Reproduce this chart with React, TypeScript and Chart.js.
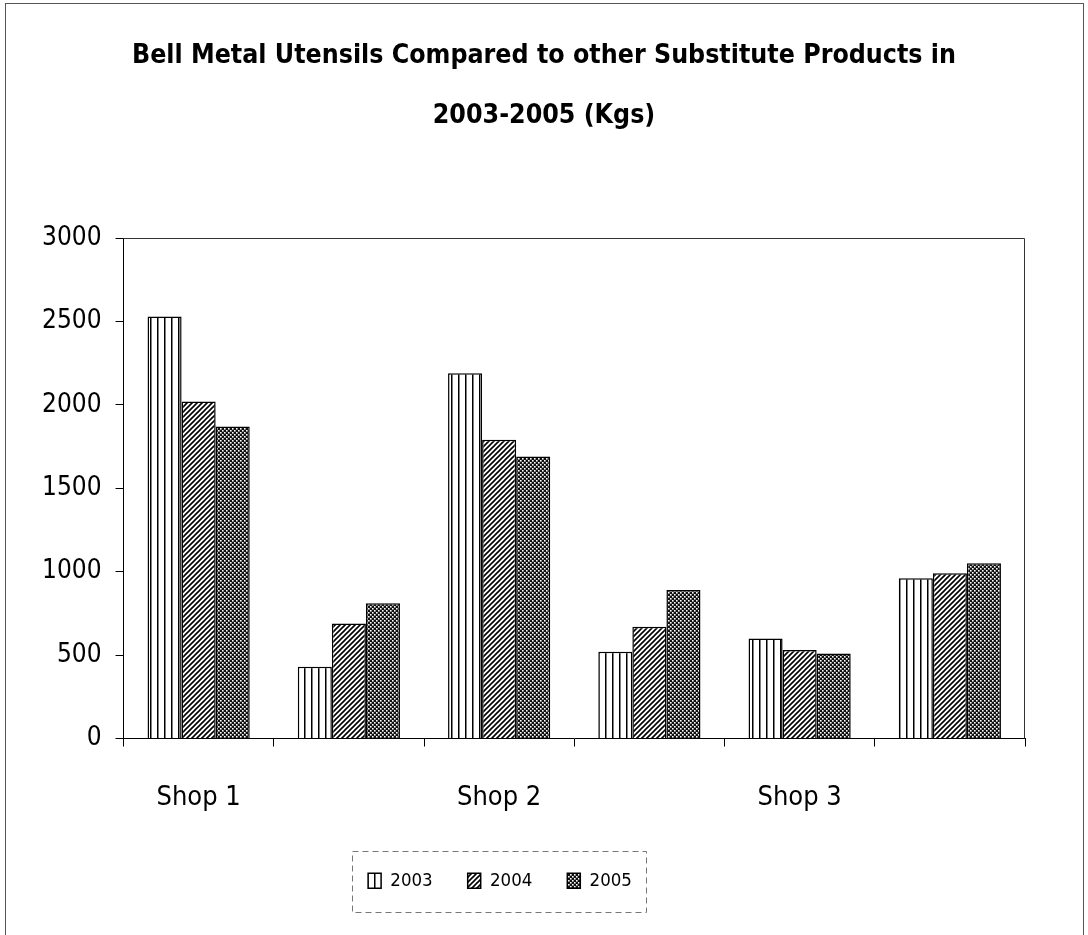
import React, { useEffect, useRef } from 'react';
import { Chart, registerables } from 'chart.js';
Chart.register(...registerables);

const categories = ['Shop 1', '', 'Shop 2', '', 'Shop 3', ''];
const seriesNames = ['2003', '2004', '2005'];
const values2003 = [2530, 430, 2190, 520, 600, 960];
const values2004 = [2020, 690, 1790, 670, 530, 990];
const values2005 = [1870, 810, 1690, 890, 510, 1050];
const yTicks = [0, 500, 1000, 1500, 2000, 2500, 3000];
const titleLines = ['Bell Metal Utensils Compared to other Substitute Products in', '2003-2005 (Kgs)'];

const FONT = "'Liberation Sans Narrow', 'DejaVu Sans Condensed', 'Arial Narrow', sans-serif";

function makePattern(kind: string): CanvasPattern | string {
  const c = document.createElement('canvas');
  const ctx = c.getContext('2d');
  if (!ctx) return '#888';
  if (kind === 'vertical') {
    c.width = 7; c.height = 4;
    ctx.fillStyle = '#fff'; ctx.fillRect(0, 0, 7, 4);
    ctx.fillStyle = '#000'; ctx.fillRect(3, 0, 1.5, 4);
  } else if (kind === 'diagonal') {
    c.width = 5; c.height = 5;
    ctx.fillStyle = '#fff'; ctx.fillRect(0, 0, 5, 5);
    ctx.strokeStyle = '#000'; ctx.lineWidth = 1.6;
    ctx.beginPath();
    ctx.moveTo(-1, 6); ctx.lineTo(6, -1);
    ctx.moveTo(-1, 1); ctx.lineTo(1, -1);
    ctx.moveTo(4, 6); ctx.lineTo(6, 4);
    ctx.stroke();
  } else {
    c.width = 4; c.height = 4;
    ctx.fillStyle = '#111'; ctx.fillRect(0, 0, 4, 4);
    ctx.fillStyle = '#fff';
    ctx.fillRect(0, 0, 1.6, 1.6);
    ctx.fillRect(2, 2, 1.6, 1.6);
  }
  const p = ctx.createPattern(c, 'repeat');
  return p || '#888';
}

const framePlugin = {
  id: 'frame',
  afterLayout(chart: any) {
    const t = chart.titleBlock;
    if (t) { t.left = 0; t.right = 1088; }
    const lg = chart.legend;
    if (lg) {
      const dx = (1000 - (lg.left + lg.right)) / 2;
      lg.left = 0; lg.right = 1000;
      if (lg.legendHitBoxes) {
        for (const hb of lg.legendHitBoxes) hb.left += dx;
      }
    }
  },
  beforeDraw(chart: any) {
    const ctx = chart.ctx;
    ctx.save();
    ctx.strokeStyle = '#555';
    ctx.lineWidth = 1;
    ctx.strokeRect(5.5, 3.5, 1078, 940);
    ctx.restore();
  },
  afterDatasetsDraw(chart: any) {
    const { ctx, chartArea } = chart;
    ctx.save();
    ctx.strokeStyle = '#333';
    ctx.lineWidth = 1;
    ctx.beginPath();
    ctx.moveTo(chartArea.left, chartArea.top + 0.5);
    ctx.lineTo(chartArea.right - 0.5, chartArea.top + 0.5);
    ctx.lineTo(chartArea.right - 0.5, chartArea.bottom);
    ctx.stroke();
    ctx.restore();
  },
  afterDraw(chart: any) {
    const legend = chart.legend;
    if (!legend || !legend.legendHitBoxes || !legend.legendHitBoxes.length) return;
    const boxes = legend.legendHitBoxes;
    let l = Infinity, r = -Infinity, t = Infinity, b = -Infinity;
    for (const hb of boxes) {
      l = Math.min(l, hb.left); r = Math.max(r, hb.left + hb.width);
      t = Math.min(t, hb.top); b = Math.max(b, hb.top + hb.height);
    }
    const ctx = chart.ctx;
    ctx.save();
    ctx.strokeStyle = '#777';
    ctx.lineWidth = 1;
    ctx.setLineDash([6, 4]);
    ctx.strokeRect(Math.round(l - 16) + 0.5, Math.round(t - 21) + 0.5, Math.round(r - l + 30), Math.round(b - t + 42));
    ctx.restore();
  },
};

export default function App() {
  const ref = useRef<HTMLCanvasElement | null>(null);
  useEffect(() => {
    document.body.style.margin = '0';
    if (!ref.current) return;
    const patterns = [makePattern('vertical'), makePattern('diagonal'), makePattern('check')];
    const seriesValues = [values2003, values2004, values2005];
    const chart = new Chart(ref.current, {
      type: 'bar',
      data: {
        labels: categories,
        datasets: seriesNames.map((name, i) => ({
          label: name,
          data: seriesValues[i],
          backgroundColor: patterns[i] as any,
          borderColor: '#000',
          borderWidth: 1.5,
          categoryPercentage: 0.68,
          barPercentage: 1.0,
        })),
      },
      options: {
        responsive: false,
        animation: false,
        devicePixelRatio: 1,
        layout: { padding: { left: 28, right: 63, top: 16, bottom: 35 } },
        plugins: {
          title: {
            display: true,
            text: titleLines,
            color: '#000',
            font: { family: FONT, size: 26.5, weight: 'bold', lineHeight: '60px' as any },
            padding: { top: 10, bottom: 92 },
          },
          legend: {
            display: true,
            position: 'bottom',
            labels: {
              color: '#000',
              font: { family: FONT, size: 18.5 },
              boxWidth: 13,
              boxHeight: 15,
              padding: 35,
            },
          },
          tooltip: { enabled: false },
        },
        scales: {
          x: {
            afterFit: (scale: any) => { scale.height = 98; },
            grid: { display: true, drawOnChartArea: false, drawTicks: true, tickLength: 8, color: '#000', offset: true },
            border: { display: true, color: '#000', width: 1 },
            ticks: { color: '#000', font: { family: FONT, size: 27 }, padding: 35, autoSkip: false, maxRotation: 0 },
          },
          y: {
            min: 0,
            max: 3000,
            afterBuildTicks: (scale: any) => { scale.ticks = yTicks.map((v) => ({ value: v })); },
            grid: { display: true, drawOnChartArea: false, drawTicks: true, tickLength: 8, color: '#000' },
            border: { display: true, color: '#000', width: 1 },
            ticks: { color: '#000', font: { family: FONT, size: 26 }, padding: 14, callback: (v: any) => String(v) },
          },
        },
      },
      plugins: [framePlugin],
    });
    return () => chart.destroy();
  }, []);
  return (
    <div style={{ position: 'absolute', left: 0, top: 0, width: 1088, height: 935, background: '#fff' }}>
      <canvas ref={ref} width={1088} height={935} style={{ width: 1088, height: 935, display: 'block' }} />
    </div>
  );
}
